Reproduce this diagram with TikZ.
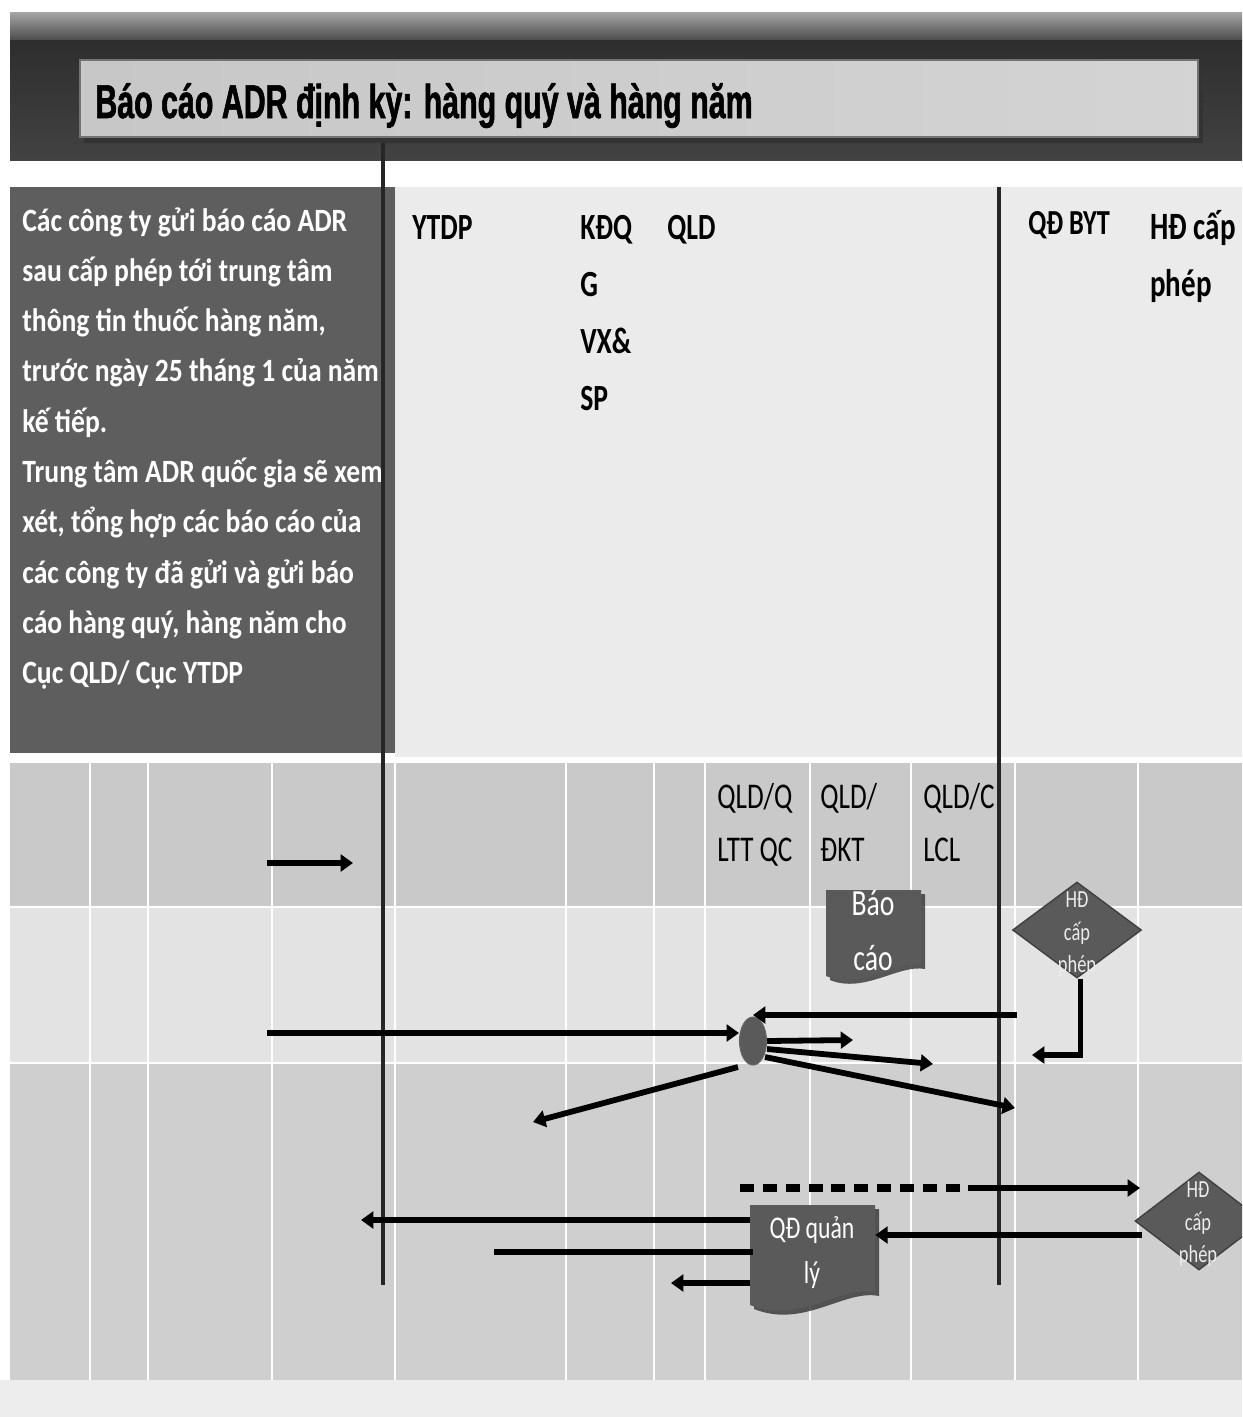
\documentclass[tikz,border=0pt]{standalone}
\usepackage{fontspec}
\setmainfont{Carlito}
\newfontfamily\titlefont[FakeStretch=0.64,FakeBold=1.2]{Liberation Sans Bold}
\newfontfamily\bodyfont[FakeStretch=0.85]{Carlito}
\newfontfamily\labfont[FakeStretch=0.75]{Carlito}
\usetikzlibrary{shapes.geometric,arrows.meta,calc}
\definecolor{boxgray}{HTML}{5E5E5E}
\definecolor{shapegray}{HTML}{5A5A5A}
\begin{document}
\begin{tikzpicture}[x=0.02cm,y=-0.02cm,
  arr/.style={line width=3.3pt,-{Triangle[length=7pt,width=9.5pt]}},
  plainline/.style={line width=3.3pt},
  gridline/.style={white,line width=1.2pt},
  lane/.style={black!85,line width=2.2pt},
  body/.style={font={\bodyfont\bfseries\fontsize{18.5}{22}\selectfont},text=white,inner sep=0,anchor=base west},
  hd/.style={font={\labfont\bfseries\fontsize{21}{25}\selectfont},inner sep=0,anchor=base west},
  lab/.style={font={\labfont\fontsize{20.6}{24}\selectfont},inner sep=0,anchor=base west},
  doctext/.style={font={\labfont\fontsize{21}{24}\selectfont},text=white,inner sep=0,anchor=base},
  dtext/.style={font={\labfont\fontsize{14}{16}\selectfont},text=black!8,inner sep=0,anchor=base},
  dia/.style={diamond,fill=shapegray,draw=black!75,line width=0.8pt,inner sep=0},
  frame/.style={draw=none,rectangle,inner sep=0}]
\clip (0,0) rectangle (1242,1417);
% backgrounds
\fill[white] (0,0) rectangle (1242,1417);
\shade[top color=black!35,bottom color=black!70] (10,12) rectangle (1242,40);
\shade[top color=black!82,bottom color=black!74] (10,40) rectangle (1242,160);
\fill[black!80] (84,65) rectangle (1203,143);
\shade[left color=black!22,right color=black!17] (80,60) rectangle (1198,137);
\draw[black!55,line width=0.6pt] (80,60) rectangle (1198,137);
\fill[boxgray] (10,187) rectangle (395,753);
\fill[black!8] (395,187) rectangle (1242,757);
\fill[black!21] (10,763) rectangle (1242,907);
\fill[black!11] (10,907) rectangle (1242,1063);
\fill[black!19] (10,1063) rectangle (1242,1380);
\fill[black!7] (0,1380) rectangle (1242,1417);
\foreach \gx in {90,148,272,395,566,654,705,810,911,1015,1138}
  \draw[gridline] (\gx,763) -- (\gx,1380);
\draw[white,line width=1pt] (10,907) -- (1242,907);
\draw[white,line width=1pt] (10,1063) -- (1242,1063);
% title
\node[font={\titlefont\fontsize{27}{30}\selectfont},inner sep=0,anchor=base west] (title) at (95,118) {Báo cáo ADR định kỳ: hàng quý và hàng năm};
% left text
\node[body] (l1) at (22,231) {Các công ty gửi báo cáo ADR};
\node[body] (l2) at (22,281.3) {sau cấp phép tới trung tâm};
\node[body] (l3) at (22,331.6) {thông tin thuốc hàng năm,};
\node[body] (l4) at (22,381.9) {trước ngày 25 tháng 1 của năm};
\node[body] (l5) at (22,432.2) {kế tiếp.};
\node[body] (l6) at (22,482.5) {Trung tâm ADR quốc gia sẽ xem};
\node[body] (l7) at (22,532.8) {xét, tổng hợp các báo cáo của};
\node[body] (l8) at (22,583.1) {các công ty đã gửi và gửi báo};
\node[body] (l9) at (22,633.4) {cáo hàng quý, hàng năm cho};
\node[body] (l10) at (22,683.7) {Cục QLD/ Cục YTDP};
% headings
\node[hd] (ytdp) at (412,239) {YTDP};
\node[hd] (kdq1) at (580,239) {KĐQ};
\node[hd] (kdq2) at (580,296) {G};
\node[hd] (kdq3) at (580,353) {VX\&};
\node[hd] (kdq4) at (580,410) {SP};
\node[hd] (qld) at (667,239) {QLD};
\node[hd,font={\labfont\bfseries\fontsize{20}{24}\selectfont}] (qdbyt) at (1028,234) {QĐ BYT};
\node[hd,font={\labfont\bfseries\fontsize{22}{26}\selectfont}] (hdc1) at (1150,239) {HĐ cấp};
\node[hd,font={\labfont\bfseries\fontsize{22}{26}\selectfont}] (hdc2) at (1150,296) {phép};
\node[lab] (q1a) at (717,808) {QLD/Q};
\node[lab] (q1b) at (717,861) {LTT QC};
\node[lab] (q2a) at (820,808) {QLD/};
\node[lab] (q2b) at (820,861) {ĐKT};
\node[lab] (q3a) at (923,808) {QLD/C};
\node[lab] (q3b) at (923,861) {LCL};
% lane lines
\draw[lane] (383,143) -- (383,1285);
\draw[lane] (999,187) -- (999,1285);
% document shapes
\fill[black!80,opacity=0.8] (830,894) -- (925,894) -- (925,969) .. controls (899,964) and (864,994) .. (830,980) -- cycle;
\fill[shapegray] (826,890) -- (921,890) -- (921,965) .. controls (895,960) and (860,990) .. (826,976) -- cycle;
\node[frame,minimum width=1.9cm,minimum height=1.7cm] (bc) at (873.5,932) {};
\fill[black!80,opacity=0.8] (754,1209) -- (879,1209) -- (879,1296) .. controls (844,1289) and (804,1329) .. (754,1309) -- cycle;
\fill[shapegray] (750,1205) -- (875,1205) -- (875,1292) .. controls (840,1285) and (800,1325) .. (750,1305) -- cycle;
\node[frame,minimum width=2.5cm,minimum height=1.9cm] (qd) at (812.5,1252) {};
% diamonds and ellipse
\node[dia,minimum width=2.58cm,minimum height=1.92cm] (d1) at (1077,930) {};
\node[dia,minimum width=2.56cm,minimum height=1.96cm] (d2) at (1199,1221) {};
\node[ellipse,fill=shapegray,draw=black!60,line width=0.6pt,minimum width=0.54cm,minimum height=0.96cm,inner sep=0] (el) at (753,1041) {};
% texts in shapes
\node[doctext] (bct1) at (873,915) {Báo};
\node[doctext] (bct2) at (873,970) {cáo};
\node[doctext,font={\labfont\fontsize{18}{22}\selectfont}] (qdt1) at (812,1238) {QĐ quản};
\node[doctext,font={\labfont\fontsize{18}{22}\selectfont}] (qdt2) at (812,1283) {lý};
\node[dtext] (d1a) at (1077,907) {HĐ};
\node[dtext] (d1b) at (1077,940) {cấp};
\node[dtext] (d1c) at (1077,972) {phép};
\node[dtext] (d2a) at (1198,1197) {HĐ};
\node[dtext] (d2b) at (1198,1230) {cấp};
\node[dtext] (d2c) at (1198,1262) {phép};
% connector end points
\coordinate (a1s) at (267,863);
\coordinate (a1e) at (353,863);
\coordinate (a2) at (267,1033);
\coordinate (a3) at (1017,1015);
\coordinate (a4) at (853,1040);
\coordinate (a5) at (933,1064);
\coordinate (a6) at (1015,1108);
\coordinate (a7) at (533,1122);
\coordinate (a8) at (1032,1055);
\coordinate (a9s) at (740,1188);
\coordinate (a9m) at (968,1188);
\coordinate (a9e) at (1140,1188);
\coordinate (a10) at (1142,1235);
\coordinate (a11) at (361,1220);
\coordinate (a12) at (497,1252);
\coordinate (a13) at (671,1283);
% connectors
\draw[arr] (a1s) -- (a1e);
\draw[arr] (a2) -- (a2 -| el.west);
\draw[arr] (a3) -- (a3 -| el.north);
\draw[arr] (el.east) -- (a4);
\draw[arr] ($(el.east)+(0,8)$) -- (a5);
\draw[arr] ($(el.east)+(-2,16)$) -- (a6);
\draw[arr] ($(el.west)+(-1,26)$) -- (a7);
\draw[arr] ([xshift=2pt]d1.south) |- (a8);
\draw[line width=4.5pt,dash pattern=on 8pt off 5pt] (a9s) -- (a9m);
\draw[arr] (a9m) -- (a9e);
\draw[arr] (a10) -- (a10 -| qd.east);
\draw[arr] (a11 -| qd.west) -- (a11);
\draw[plainline,line cap=rect] (a12 -| qd.west) -- (a12);
\draw[arr] (a13 -| qd.west) -- (a13);
\end{tikzpicture}
\end{document}
